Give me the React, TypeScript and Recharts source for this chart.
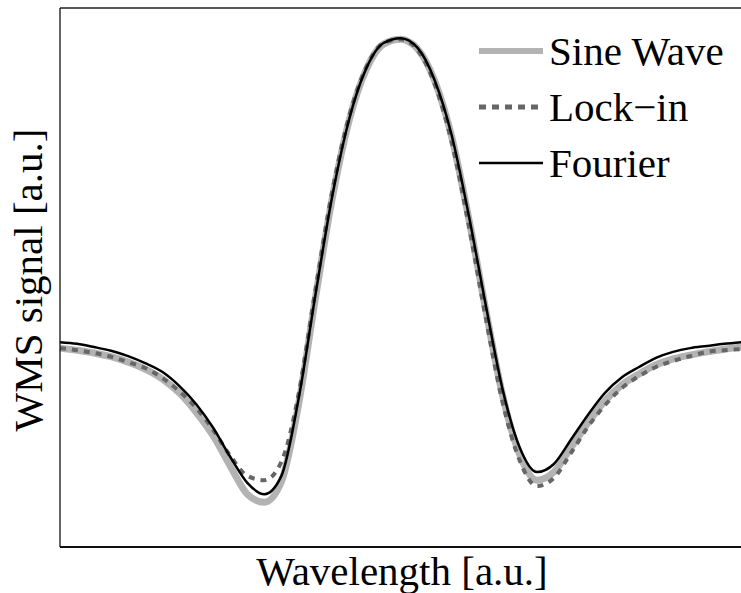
import { LineChart, Line, XAxis, YAxis, ReferenceLine, Legend } from "recharts";

const wavelength = [
  0, 2.5, 5, 7.5, 10, 12.5, 15, 17.5, 20, 22.5, 25, 27.5, 30, 32.5, 35, 37.5, 40, 42.5, 45, 47.5,
  50, 52.5, 55, 57.5, 60, 62.5, 65, 67.5, 70, 72.5, 75, 77.5, 80, 82.5, 85, 87.5, 90, 92.5, 95, 97.5, 100,
];

const sineWave = [
  36.9, 36.5, 36.0, 35.3, 34.3, 33.0, 31.2, 28.6, 25.0, 20.6, 15.0, 9.8, 8.3, 12.1, 26.3, 46.2, 64.9, 79.4, 88.7, 93.3,
  94.2, 92.4, 86.5, 76.1, 61.0, 44.0, 28.0, 17.1, 12.4, 13.9, 18.4, 23.0, 27.1, 30.1, 32.1, 33.8, 34.9, 35.6, 36.2, 36.7, 37.1,
];

const lockIn = [
  36.9, 36.5, 36.0, 35.3, 34.3, 33.2, 31.4, 28.9, 25.8, 21.7, 16.9, 13.2, 12.4, 15.8, 28.2, 47.7, 66.2, 80.1, 89.1, 93.5,
  94.2, 92.2, 85.9, 75.1, 59.7, 42.5, 26.7, 16.0, 11.3, 12.8, 17.4, 22.3, 26.3, 29.5, 31.7, 33.4, 34.5, 35.4, 36.2, 36.5, 36.7,
];

const fourier = [
  38.0, 37.7, 37.1, 36.4, 35.4, 34.1, 32.5, 29.9, 26.5, 22.1, 16.7, 11.9, 9.8, 13.2, 27.3, 46.8, 65.3, 79.6, 88.9, 93.5,
  94.4, 92.6, 86.6, 76.4, 61.6, 44.9, 29.1, 18.4, 13.9, 15.4, 19.9, 24.5, 28.6, 31.5, 33.4, 35.1, 36.2, 36.9, 37.3, 37.7, 38.0,
];

const seriesNames = ["Sine Wave", "Lock\u2212in", "Fourier"];

const textStyle = {
  fontFamily: '"Times New Roman", Times, "Liberation Serif", "Noto Serif", "DejaVu Serif", serif',
  fontSize: 41,
};

const series = [
  { key: "sine", name: seriesNames[0], color: "#b3b3b3", width: 7, dash: undefined },
  { key: "lock", name: seriesNames[1], color: "#666666", width: 4, dash: "6 6" },
  { key: "fourier", name: seriesNames[2], color: "#000000", width: 2.5, dash: undefined },
];

const data = wavelength.map((x, i) => ({
  x,
  sine: sineWave[i],
  lock: lockIn[i],
  fourier: fourier[i],
}));

function LegendBox() {
  return (
    <svg width={741} height={200} style={{ display: "block" }}>
      {series.map((s, i) => {
        const y = 51 + i * 56;
        return (
          <g key={s.key}>
            <line
              x1={479}
              x2={543}
              y1={y}
              y2={y}
              stroke={s.color}
              strokeWidth={s.key === "sine" ? 6 : s.key === "lock" ? 5 : 2.5}
              strokeDasharray={s.dash ? "7 6" : undefined}
            />
            <text x={549} y={y + 14} style={textStyle} fill="#000">
              {s.name}
            </text>
          </g>
        );
      })}
    </svg>
  );
}

export default function App() {
  return (
    <div style={{ position: "fixed", left: 0, top: 0, width: 741, height: 593, overflow: "hidden", background: "#fff" }}>
      <LineChart width={760} height={593} data={data} margin={{ top: 8, right: 12, bottom: 0, left: 0 }}>
        <XAxis
          dataKey="x"
          type="number"
          domain={[0, 101]}
          tick={false}
          tickLine={false}
          height={46}
          axisLine={{ stroke: "#111", strokeWidth: 2 }}
          label={{
            content: (props: any) => {
              const vb = props.viewBox;
              return (
                <text x={vb.x + vb.width / 2 - 2} y={585} textAnchor="middle" style={textStyle} fill="#000">
                  Wavelength [a.u.]
                </text>
              );
            },
          }}
        />
        <YAxis
          type="number"
          domain={[0, 100]}
          tick={false}
          tickLine={false}
          width={60}
          axisLine={{ stroke: "#111", strokeWidth: 1.3 }}
          label={{
            content: () => (
              <text
                x={42}
                y={280}
                transform="rotate(-90, 42, 280)"
                textAnchor="middle"
                style={textStyle}
                fill="#000"
              >
                WMS signal [a.u.]
              </text>
            ),
          }}
        />
        <ReferenceLine y={100} stroke="#222" strokeWidth={1.3} ifOverflow="visible" />
        {series.map((s) => (
          <Line
            key={s.key}
            dataKey={s.key}
            name={s.name}
            type="monotone"
            stroke={s.color}
            strokeWidth={s.width}
            strokeDasharray={s.dash}
            dot={false}
            activeDot={false}
            isAnimationActive={false}
          />
        ))}
        <Legend
          layout="vertical"
          align="center"
          verticalAlign="middle"
          wrapperStyle={{ top: 0, left: 0, width: 741, height: 200 }}
          content={() => <LegendBox />}
        />
      </LineChart>
    </div>
  );
}
